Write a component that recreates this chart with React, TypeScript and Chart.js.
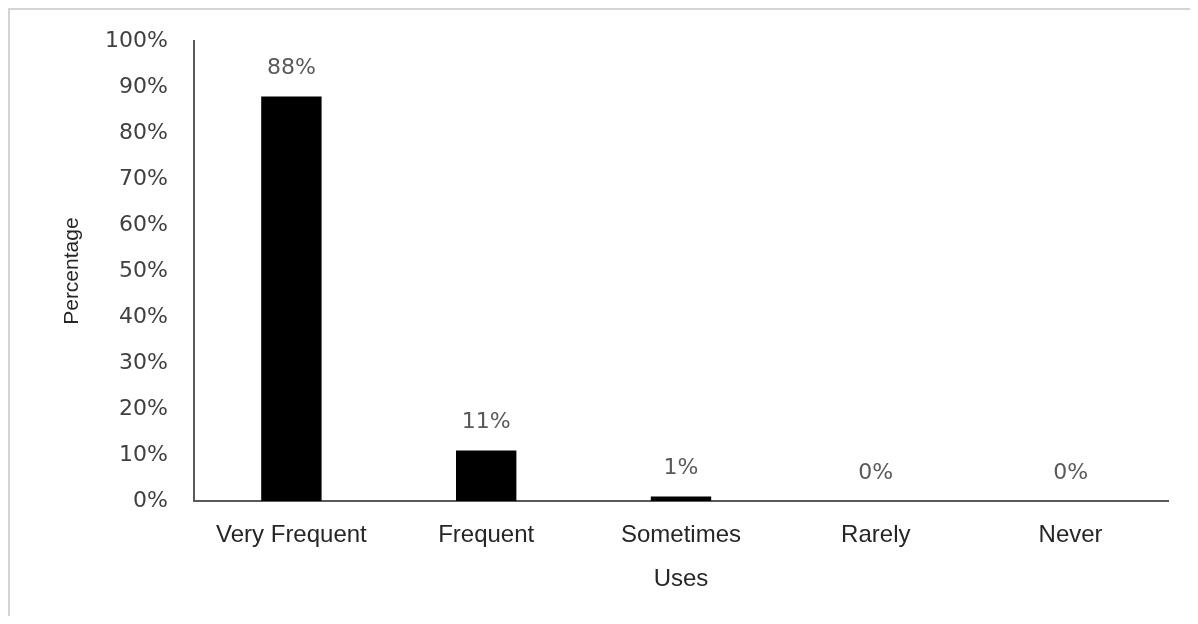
import React, { useEffect, useRef } from "react";
import { Chart, registerables } from "chart.js";

Chart.register(...registerables);

// Survey responses: how often the item is used
const categories: string[] = ["Very Frequent", "Frequent", "Sometimes", "Rarely", "Never"];
const percentages: number[] = [88, 11, 1, 0, 0];
const yTicks: number[] = [0, 10, 20, 30, 40, 50, 60, 70, 80, 90, 100];

const CANVAS_W = 1186;
const CANVAS_H = 606;

// Writes the percentage above every bar
const valueLabels = {
  id: "valueLabels",
  afterDatasetsDraw(chart: any) {
    const { ctx } = chart;
    const meta = chart.getDatasetMeta(0);
    ctx.save();
    ctx.font = '22px "DejaVu Sans"';
    ctx.fillStyle = "#595959";
    ctx.textAlign = "center";
    ctx.textBaseline = "middle";
    meta.data.forEach((bar: any, i: number) => {
      ctx.fillText(`${percentages[i]}%`, bar.x, bar.y - 28);
    });
    ctx.restore();
  },
};

export default function App() {
  const canvasRef = useRef<HTMLCanvasElement | null>(null);

  useEffect(() => {
    if (!canvasRef.current) return;
    const chart = new Chart(canvasRef.current, {
      type: "bar",
      data: {
        labels: categories,
        datasets: [
          {
            data: percentages,
            backgroundColor: "#000000",
            borderWidth: 0,
            categoryPercentage: 1,
            barPercentage: 0.31,
          },
        ],
      },
      options: {
        responsive: false,
        animation: false,
        layout: { padding: { top: 22, right: 28, left: 0, bottom: 0 } },
        plugins: {
          legend: { display: false },
          tooltip: { enabled: false },
        },
        scales: {
          x: {
            grid: { display: false },
            border: { display: true, color: "#595959", width: 2 },
            ticks: {
              color: "#262626",
              font: { family: '"Liberation Sans", Arial, sans-serif', size: 24 },
              padding: 12,
              maxRotation: 0,
            },
            title: {
              display: true,
              text: "Uses",
              color: "#262626",
              font: { family: '"Liberation Sans", Arial, sans-serif', size: 24 },
              padding: { top: 0, bottom: 22 },
            },
            afterFit(scale: any) {
              scale.height = 115;
            },
          },
          y: {
            min: 0,
            max: 100,
            grid: { display: false },
            border: { display: true, color: "#595959", width: 2 },
            afterBuildTicks(scale: any) {
              scale.ticks = yTicks.map((v) => ({ value: v }));
            },
            ticks: {
              color: "#404040",
              font: { family: '"DejaVu Sans", sans-serif', size: 22 },
              padding: 18,
              callback: (v: any) => `${v}%`,
            },
            title: {
              display: true,
              text: "Percentage",
              color: "#262626",
              font: { family: '"Liberation Sans", Arial, sans-serif', size: 21 },
              padding: { top: 50, bottom: 0 },
            },
            afterFit(scale: any) {
              scale.width = 184;
            },
          },
        },
      },
      plugins: [valueLabels],
    });
    return () => chart.destroy();
  }, []);

  return (
    <div
      style={{
        width: CANVAS_W,
        height: CANVAS_H,
        borderTop: "2px solid #d4d4d4",
        borderLeft: "2px solid #d4d4d4",
        borderRight: "1px solid #eeeeee",
        background: "#ffffff",
      }}
    >
      <canvas
        ref={canvasRef}
        width={CANVAS_W}
        height={CANVAS_H}
        style={{ display: "block" }}
      />
    </div>
  );
}
